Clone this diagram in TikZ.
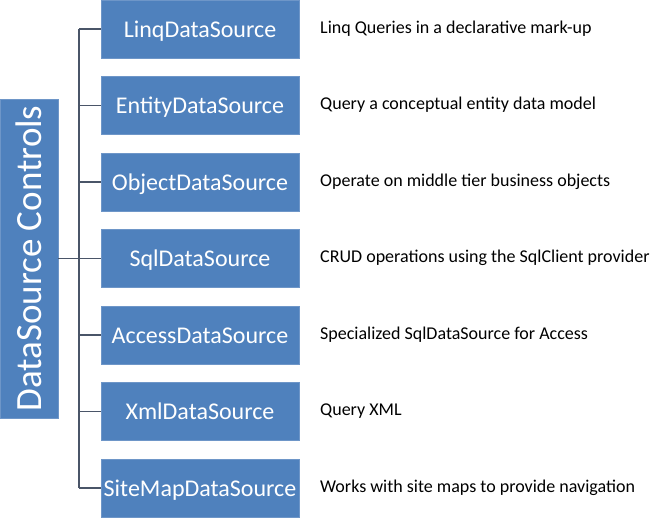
\documentclass[tikz,border=0pt]{standalone}
\usepackage{fontspec}
\setmainfont{Carlito}
\usepackage{tikz}
\usetikzlibrary{calc}
\usepackage{xcolor}
\definecolor{boxblue}{RGB}{79, 129, 189}
\definecolor{edgeblue}{RGB}{110, 150, 200}
\definecolor{linkgray}{RGB}{74, 85, 104}

\begin{document}
\begin{tikzpicture}[x=1pt, y=-1pt,
  srcbox/.style={fill=boxblue, draw=edgeblue, line width=0.6pt, text=white,
    minimum width=198pt, minimum height=58pt, inner sep=0pt,
    text height=18pt, text depth=2pt,
    font=\fontsize{24}{28}\selectfont},
  desctext/.style={anchor=west, inner sep=0pt, font=\fontsize{18}{22}\selectfont},
  link/.style={draw=linkgray, line width=1.8pt}]
  \useasboundingbox (0,0) rectangle (652,517);

  % main control box
  \node[fill=boxblue, draw=edgeblue, line width=0.6pt, text=white, rotate=90,
    minimum width=319pt, minimum height=58pt, inner sep=0pt,
    font=\fontsize{37}{40}\selectfont] (ctrl) at (29,258.5) {DataSource Controls};

  % spine of the bracket
  \coordinate (spine) at (79,0);

  % data source boxes and their descriptions
  \foreach \n/\y/\name/\desc in {
      1/29/LinqDataSource/Linq Queries in a declarative mark-up,
      2/105.5/EntityDataSource/Query a conceptual entity data model,
      3/182/ObjectDataSource/Operate on middle tier business objects,
      4/258.5/SqlDataSource/CRUD operations using the SqlClient provider,
      5/335/AccessDataSource/Specialized SqlDataSource for Access,
      6/411.5/XmlDataSource/Query XML,
      7/488/SiteMapDataSource/Works with site maps to provide navigation} {
    \node[srcbox] (src\n) at (200,\y) {\name};
    \node[desctext] (desc\n) at (320,\y-0.5) {\desc};
    \draw[link] (src\n.west) -- (src\n.west -| spine);
  }

  % bracket
  \draw[link] (src1.west -| spine) -- (src7.west -| spine);
  \draw[link] (ctrl.south) -- (ctrl.south -| spine);

\end{tikzpicture}
\end{document}
